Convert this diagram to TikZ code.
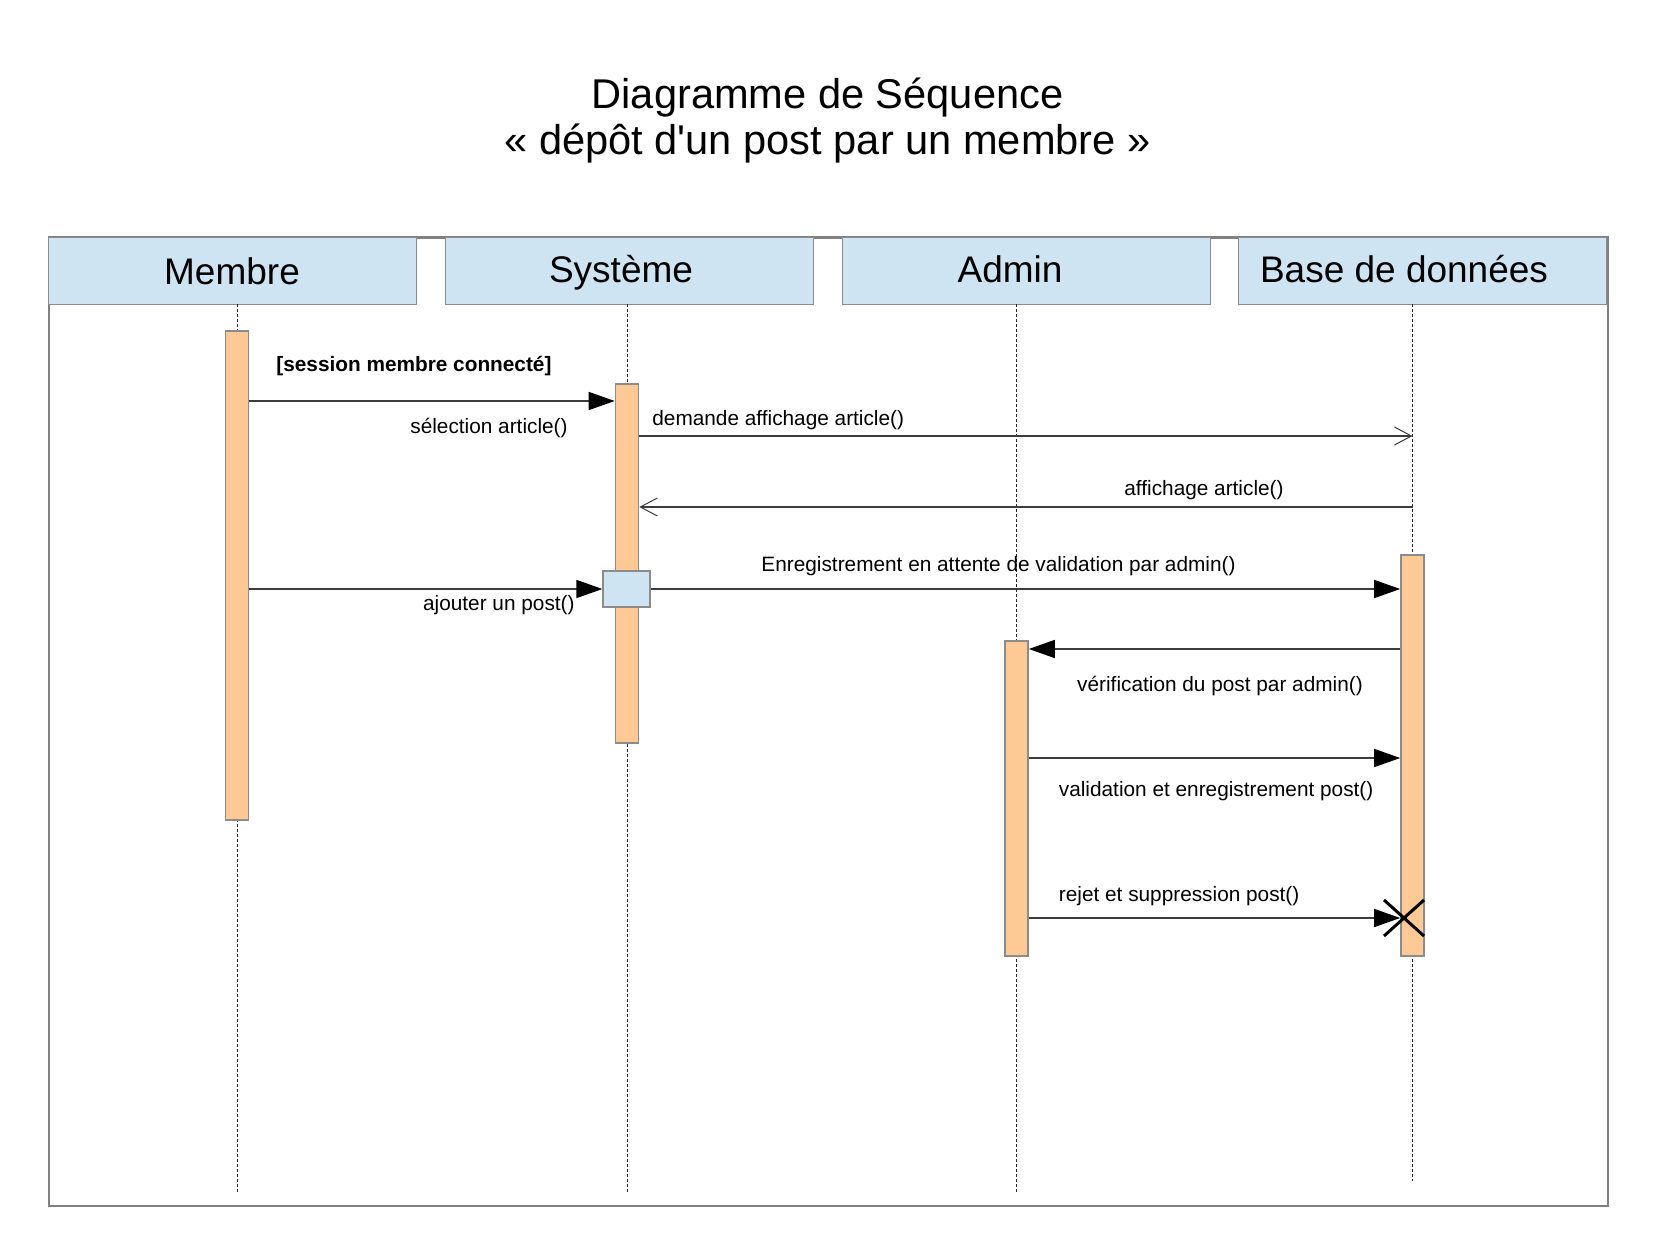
\documentclass[tikz,border=0pt]{standalone}
\usepackage{fontspec}
\setmainfont{Liberation Sans}[Ligatures=TeXOff]
\usetikzlibrary{arrows.meta,calc}
\definecolor{hdrblue}{RGB}{207,228,242}
\definecolor{peach}{RGB}{255,201,150}
\definecolor{bordergray}{RGB}{140,140,140}
\definecolor{framegray}{RGB}{128,128,128}
\definecolor{msggray}{RGB}{60,60,60}
\begin{document}
\begin{tikzpicture}[x=0.5pt,y=-0.5pt,
  header/.style={draw=bordergray, line width=0.5pt, fill=hdrblue, minimum width=184pt, minimum height=33.5pt, inner sep=0pt, anchor=north west},
  hdrtext/.style={font=\fontsize{18.5pt}{22pt}\selectfont, inner sep=0pt, anchor=base},
  bar/.style={draw=bordergray, line width=0.8pt, fill=peach, minimum width=11.5pt, inner sep=0pt, anchor=north},
  lifeline/.style={draw=black!85, line width=0.5pt, dash pattern=on 1.5pt off 1pt},
  msg/.style={draw=msggray, line width=0.75pt},
  sync/.style={msg, -{Triangle[length=13pt,width=9pt,color=black]}},
  reply/.style={msg, -{Straight Barb[length=8.5pt,width=9pt,line width=0.5pt]}},
  lbl/.style={font=\fontsize{10.4pt}{12.5pt}\selectfont, inner sep=0pt, text=black}
]
\useasboundingbox (0,0) rectangle (1655,1240);
\fill[white] (0,0) rectangle (1655,1240);

% title
\node[align=center, font=\fontsize{20.8pt}{23pt}\selectfont, inner sep=0pt] (title) at (827.5,121)
  {Diagramme de Séquence\\« dépôt d'un post par un membre »};

% frame
\node[draw=framegray, line width=1.3pt, minimum width=779.5pt, minimum height=484pt, inner sep=0pt, anchor=north west] (frame) at (47.5,236.5) {};

% headers
\node[header] (h1) at (47.5,237) {};
\node[header] (h2) at (445,237) {};
\node[header] (h3) at (842,237) {};
\node[header] (h4) at (1238,237) {};
\node[hdrtext] (t1) at (232,285) {Membre};
\node[hdrtext] (t2) at (621,283) {Système};
\node[hdrtext] (t3) at (1010,283) {Admin};
\node[hdrtext] (t4) at (1404,283) {Base de données};

% lifelines
\coordinate (l1top) at (237,304); \coordinate (l1bot) at (237,1194);
\coordinate (l2top) at (627,304); \coordinate (l2bot) at (627,1194);
\coordinate (l3top) at (1016.5,304); \coordinate (l3bot) at (1016.5,1194);
\coordinate (l4top) at (1412.5,304); \coordinate (l4bot) at (1412.5,1181);
\draw[lifeline] (l1top) -- (l1bot);
\draw[lifeline] (l2top) -- (l2bot);
\draw[lifeline] (l3top) -- (l3bot);
\draw[lifeline] (l4top) -- (l4bot);

% activation bars
\node[bar, minimum height=244.5pt] (mbar) at (237,330) {};
\node[bar, minimum height=179.5pt] (sbar) at (627,383) {};
\node[bar, minimum height=157.5pt] (abar) at (1016.5,640) {};
\node[bar, minimum height=200.5pt] (bbar) at (1412.5,554) {};
\node[draw=bordergray, line width=0.6pt, fill=hdrblue, minimum width=23.5pt, minimum height=18pt, inner sep=0pt] (box) at (626.5,589) {};

% message heights
\coordinate (y1) at (0,401);
\coordinate (y2) at (0,436);
\coordinate (y3) at (0,507);
\coordinate (y4) at (0,589);
\coordinate (y6) at (0,649);
\coordinate (y7) at (0,758);
\coordinate (y8) at (0,918);

% messages
\draw[sync] (mbar.east |- y1) -- (sbar.west |- y1);
\draw[reply] (sbar.east |- y2) -- (l4top |- y2);
\draw[reply] (l4top |- y3) -- (sbar.east |- y3);
\draw[sync] (mbar.east |- y4) -- (box.west |- y4);
\draw[sync] (box.east |- y4) -- (bbar.west |- y4);
\draw[sync] (bbar.west |- y6) -- (abar.east |- y6);
\draw[sync] (abar.east |- y7) -- (bbar.west |- y7);
\draw[sync] (abar.east |- y8) -- (bbar.west |- y8);

% destruction X
\coordinate (xc) at (1404,918);
\draw[black, line width=1.5pt] ($(xc)+(-20,-18)$) -- ($(xc)+(20,18)$);
\draw[black, line width=1.5pt] ($(xc)+(-20,18)$) -- ($(xc)+(20,-18)$);

% labels
\node[lbl, anchor=west, font=\bfseries\fontsize{10.4pt}{12.5pt}\selectfont] (g1) at (276,366) {[session membre connecté]};
\node[lbl, anchor=east] (m1) at (568,428) {sélection article()};
\node[lbl, anchor=west] (m2) at (652,420) {demande affichage article()};
\node[lbl] (m3) at (1204,490) {affichage article()};
\node[lbl, anchor=east] (m4) at (575,605) {ajouter un post()};
\node[lbl] (m5) at (998.5,566) {Enregistrement en attente de validation par admin()};
\node[lbl] (m6) at (1220,686) {vérification du post par admin()};
\node[lbl, anchor=west] (m7) at (1058.5,791) {validation et enregistrement post()};
\node[lbl, anchor=west] (m8) at (1058.5,896) {rejet et suppression post()};
\end{tikzpicture}
\end{document}
